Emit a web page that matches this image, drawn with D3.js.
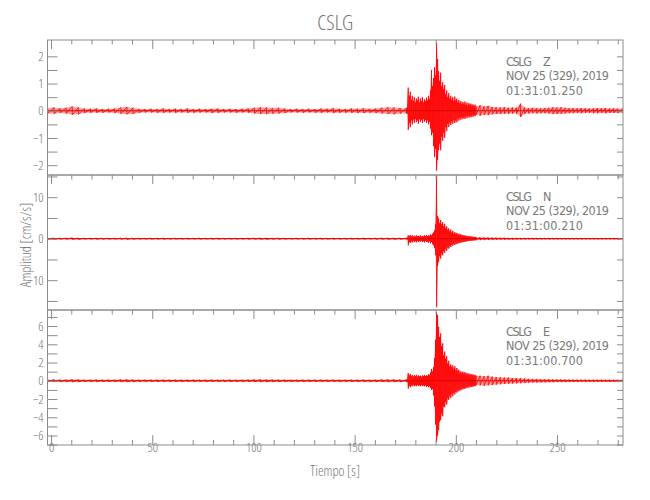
<!DOCTYPE html>
<html><head><meta charset="utf-8">
<script src="https://cdn.jsdelivr.net/npm/d3@7"></script>
<style>body{margin:0;background:#fff}</style>
</head><body><svg id="c" width="650" height="500"></svg>
<script>
// ---- time grid of envelope samples (s)
const times = [
 -1.7,1.5,4.5,7.5,10.5,13.5,16.5,19.5,22.5,25.5,
 28.5,31.5,34.5,37.5,40.5,43.5,46.5,49.5,52.5,55.5,
 58.5,61.5,64.5,67.5,70.5,73.5,76.5,79.5,82.5,85.5,
 88.5,91.5,94.5,97.5,100.5,103.5,106.5,109.5,112.5,115.5,
 118.5,121.5,124.5,127.5,130.5,133.5,136.5,139.5,142.5,145.5,
 148.5,151.5,154.5,157.5,160.5,163.5,166.5,169.5,172.5,175.5,
 176,176.5,177,177.5,178,178.5,179,179.5,180,180.5,
 181,181.5,182,182.5,183,183.5,184,184.5,185,185.5,
 186,186.5,187,187.5,188,188.5,189,189.5,190,190.5,
 191,191.5,192,192.5,193,193.5,194,194.5,195,195.5,
 196,196.5,197,197.5,198,198.5,199,199.5,200,200.5,
 201,201.5,202,202.5,203,203.5,204,204.5,205,205.5,
 206,206.5,207,207.5,208,208.5,209,209.5,
 210,
 212,214,216,218,220,222,224,226,228,230,
 232,234,236,238,240,242,244,246,248,250,
 252,254,256,258,260,262,264,266,268,270,
 272,274,276,278,280,282.5
];

// ---- Z component envelope (cm/s/s)
const zMax = [
 .10,.12,.09,.11,.16,.12,.08,.07,.08,.06, .07,.08,.12,.14,.11,.07,.06,.07,.06,.08,
 .06,.07,.06,.08,.06,.07,.06,.07,.08,.06, .07,.06,.07,.08,.11,.13,.12,.10,.11,.08,
 .06,.07,.06,.07,.06,.08,.07,.09,.07,.06, .08,.07,.09,.07,.08,.11,.13,.12,.10,.09,
 .12,.85,.55,.70,.40,.55,.35,.50,.30,.45,
 .38,.52,.30,.45,.35,.50,.30,.42,.35,.48,
 .38,.55,.42,.75,1.50,.90,1.20,1.60,1.30,2.50,
 1.90,1.45,1.10,1.40,.90,1.05,.80,.95,.60,.75,
 .50,.65,.45,.55,.40,.50,.35,.52,.38,.45,
 .30,.40,.28,.36,.25,.32,.26,.34,.22,.30,
 .20,.28,.22,.26,.18,.24,.17,.22,
 .16,
 .20,.16,.18,.14,.13,.12,.13,.11,.12,.11, .26,.12,.10,.11,.10,.09,.10,.11,.13,.12,
 .13,.11,.09,.10,.09,.10,.09,.08,.09,.10, .09,.10,.08,.09,.08,.08
];
const zMin = [
 -.10,-.11,-.08,-.10,-.15,-.13,-.08,-.07,-.07,-.07, -.06,-.08,-.11,-.13,-.12,-.07,-.06,-.06,-.07,-.07,
 -.06,-.07,-.06,-.07,-.07,-.06,-.06,-.08,-.07,-.06, -.06,-.07,-.06,-.07,-.10,-.12,-.12,-.11,-.10,-.08,
 -.06,-.06,-.07,-.06,-.07,-.07,-.06,-.08,-.07,-.07, -.07,-.08,-.08,-.07,-.08,-.10,-.12,-.13,-.10,-.09,
 -.12,-.70,-.45,-.60,-.35,-.50,-.32,-.45,-.30,-.42,
 -.35,-.48,-.30,-.40,-.33,-.45,-.30,-.40,-.33,-.45,
 -.35,-.50,-.40,-.65,-.90,-.80,-1.30,-1.70,-1.40,-2.20,
 -1.80,-1.45,-1.20,-1.45,-.95,-1.10,-.80,-1.00,-.60,-.75,
 -.48,-.60,-.42,-.52,-.38,-.48,-.34,-.45,-.35,-.42,
 -.28,-.36,-.26,-.33,-.24,-.30,-.24,-.30,-.20,-.27,
 -.19,-.25,-.20,-.24,-.17,-.22,-.16,-.20,
 -.15,
 -.18,-.15,-.16,-.13,-.12,-.12,-.11,-.11,-.10,-.10, -.23,-.11,-.10,-.09,-.10,-.09,-.09,-.10,-.12,-.12,
 -.11,-.10,-.09,-.09,-.08,-.09,-.08,-.08,-.09,-.09, -.08,-.09,-.08,-.08,-.08,-.08
];

// ---- N component envelope
const nMax = [
 .15,.18,.14,.16,.20,.17,.14,.13,.15,.12, .14,.13,.16,.18,.15,.13,.12,.14,.12,.13,
 .12,.14,.12,.13,.12,.14,.12,.13,.14,.12, .13,.12,.13,.14,.16,.18,.17,.15,.16,.13,
 .12,.13,.12,.14,.12,.13,.12,.14,.13,.12, .14,.13,.15,.13,.14,.16,.18,.17,.15,.16,
 .2,.8,.6,.9,.5,.8,.5,.7,.5,.8,
 .6,.7,.5,.8,.5,.7,.5,.8,.6,.9,
 .6,.8,.7,1.0,.8,1.2,1.5,2.0,3.5,15.2,
 5.5,4.9,3.8,4.5,3.5,4.0,3.0,3.6,2.6,3.0,
 2.2,2.5,1.8,2.2,1.5,1.9,1.3,1.6,1.2,1.4,
 1.0,1.2,.9,1.1,.8,.9,.7,.8,.6,.7,
 .55,.6,.5,.55,.45,.5,.4,.45,
 .38,
 .35,.30,.28,.25,.22,.20,.20,.18,.18,.16, .16,.15,.15,.14,.14,.13,.13,.14,.13,.13,
 .12,.13,.12,.12,.13,.12,.12,.12,.12,.12, .12,.12,.12,.12,.12,.12
];
const nMin = [
 -.14,-.17,-.15,-.15,-.19,-.18,-.13,-.13,-.14,-.13, -.13,-.14,-.15,-.17,-.16,-.12,-.13,-.13,-.12,-.14,
 -.12,-.13,-.13,-.12,-.13,-.13,-.12,-.14,-.13,-.12, -.12,-.13,-.12,-.13,-.15,-.17,-.18,-.16,-.15,-.14,
 -.12,-.12,-.13,-.13,-.12,-.12,-.13,-.13,-.12,-.13, -.13,-.14,-.14,-.12,-.15,-.15,-.17,-.18,-.16,-.15,
 -.2,-1.6,-.8,-1.0,-.6,-.9,-.5,-.8,-.6,-.9,
 -.5,-.8,-.6,-.7,-.5,-.8,-.6,-.9,-.5,-.8,
 -.7,-1.0,-.6,-1.1,-.8,-1.3,-1.6,-2.2,-4.0,-16.5,
 -6.5,-5.6,-4.2,-4.8,-3.6,-4.0,-3.0,-3.4,-2.5,-2.9,
 -2.1,-2.4,-1.8,-2.0,-1.5,-1.7,-1.3,-1.5,-1.1,-1.3,
 -1.0,-1.1,-.9,-1.0,-.75,-.85,-.65,-.75,-.6,-.65,
 -.5,-.55,-.45,-.5,-.42,-.45,-.38,-.4,
 -.35,
 -.33,-.30,-.27,-.25,-.22,-.20,-.19,-.18,-.17,-.16, -.16,-.15,-.15,-.14,-.14,-.13,-.13,-.13,-.13,-.12,
 -.12,-.12,-.12,-.12,-.12,-.12,-.12,-.12,-.12,-.12, -.12,-.12,-.12,-.12,-.12,-.12
];

// ---- E component envelope
const eMax = [
 .12,.14,.11,.12,.15,.13,.11,.10,.11,.10, .11,.10,.13,.14,.12,.10,.10,.11,.10,.11,
 .10,.11,.10,.10,.11,.10,.10,.11,.10,.10, .11,.10,.10,.11,.13,.14,.13,.12,.12,.11,
 .10,.10,.11,.10,.10,.11,.10,.11,.10,.10, .11,.10,.12,.10,.11,.13,.14,.14,.12,.12,
 .15,.85,.6,.75,.5,.65,.45,.6,.5,.65,
 .45,.6,.5,.55,.45,.6,.5,.65,.5,.6,
 .55,.7,.6,.9,1.3,1.0,1.5,2.5,4.5,7.5,
 7.2,5.9,4.8,5.2,3.8,4.1,2.8,3.2,2.4,2.7,
 1.9,2.2,1.6,1.8,1.5,1.7,1.3,1.6,1.2,1.4,
 1.1,1.2,.9,1.05,.85,1.0,.8,.95,.75,.85,
 .7,.8,.65,.75,.6,.7,.55,.65,
 .55,
 .55,.50,.55,.45,.40,.38,.35,.35,.30,.30, .28,.25,.22,.20,.20,.18,.16,.16,.15,.14,
 .14,.13,.12,.12,.12,.11,.11,.10,.10,.10, .10,.10,.10,.10,.10,.10
];
const eMin = [
 -.12,-.13,-.11,-.12,-.14,-.13,-.10,-.10,-.11,-.10, -.10,-.11,-.12,-.14,-.12,-.10,-.10,-.10,-.11,-.10,
 -.10,-.10,-.11,-.10,-.10,-.10,-.11,-.10,-.10,-.11, -.10,-.10,-.11,-.10,-.12,-.14,-.13,-.12,-.11,-.11,
 -.10,-.11,-.10,-.10,-.11,-.10,-.10,-.11,-.10,-.10, -.10,-.11,-.11,-.10,-.12,-.12,-.14,-.13,-.12,-.11,
 -.15,-.85,-.55,-.7,-.5,-.6,-.45,-.6,-.5,-.6,
 -.45,-.55,-.5,-.6,-.45,-.6,-.5,-.6,-.5,-.65,
 -.55,-.7,-.6,-.8,-1.0,-.9,-1.6,-2.8,-4.8,-6.7,
 -6.0,-5.4,-4.5,-4.3,-3.6,-3.9,-2.8,-2.9,-2.3,-2.6,
 -1.9,-2.1,-1.6,-1.9,-1.4,-1.7,-1.3,-1.5,-1.2,-1.3,
 -1.05,-1.15,-.95,-1.05,-.85,-.95,-.8,-.9,-.7,-.8,
 -.65,-.75,-.6,-.7,-.6,-.65,-.55,-.6,
 -.5,
 -.50,-.55,-.50,-.45,-.42,-.38,-.35,-.33,-.30,-.28, -.27,-.25,-.22,-.20,-.20,-.18,-.17,-.16,-.15,-.14,
 -.14,-.13,-.12,-.12,-.12,-.11,-.11,-.10,-.10,-.10, -.10,-.10,-.10,-.10,-.10,-.10
];

// ---- axis / label content
const xDomain = [-1.75, 282.6];
const xMajorTicks = [0, 50, 100, 150, 200, 250];
const xMinorTicks = [10,20,30,40,60,70,80,90,110,120,130,140,160,170,180,190,210,220,230,240,260,270,280];
const components = ["Z", "N", "E"];
const startTimes = ["01:31:01.250", "01:31:00.210", "01:31:00.700"];
const dateLabel = "NOV 25 (329), 2019";
const station = "CSLG";
const yDomains = [[-2.36, 2.60], [-17.18, 15.35], [-7.04, 7.76]];
const yTicks = [
  [-2,-1.5,-1,-0.5,0,0.5,1,1.5,2],
  [-15,-10,-5,0,5,10,15],
  [-7,-6,-5,-4,-3,-2,-1,0,1,2,3,4,5,6,7]
];
const yTickLabels = [[-2,-1,0,1,2], [-10,0,10], [-6,-4,-2,0,2,4,6]];
const yTitle = "Amplitud [cm/s/s]";
const xTitle = "Tiempo [s]";

// ---- drawing
const svg = d3.select("#c");
const L = 47.5, R = 623, panelTops = [40, 175, 310], panelH = 135;
const axisColor = "#8c8c8c", textColor = "#737373";
const font = "'Open Sans', 'Liberation Sans Narrow', sans-serif";
const annFont = "'Liberation Sans Narrow', 'DejaVu Sans Condensed', sans-serif";
const x = d3.scaleLinear().domain(xDomain).range([L, R]);
const envs = [[zMax, zMin], [nMax, nMin], [eMax, eMin]];
const defs = svg.append("defs");

function styleText(sel, size) {
  sel.style("font-family", font).style("font-size", size + "px")
     .style("font-weight", 300).style("font-stretch", "75%").attr("fill", textColor);
}

components.forEach((comp, i) => {
  const top = panelTops[i], bot = top + panelH;
  const y = d3.scaleLinear().domain(yDomains[i]).range([bot, top]);
  const [mx, mn] = envs[i];
  const n = Math.min(times.length, mx.length, mn.length);
  const data = d3.range(n).map(k => ({t: times[k], hi: mx[k], lo: mn[k]}));
  const zig = [];
  data.forEach(d => { zig.push([d.t, d.hi]); zig.push([d.t, d.lo]); });
  const g = svg.append("g");
  defs.append("clipPath").attr("id", "clip" + i).append("rect")
    .attr("x", L).attr("y", top).attr("width", R - L).attr("height", panelH);
  const tr = g.append("g").attr("clip-path", `url(#clip${i})`);
  tr.append("path").datum(data)
    .attr("d", d3.area().x(d => x(d.t)).y0(d => y(d.lo)).y1(d => y(d.hi)))
    .attr("fill", "#ff5050").attr("fill-opacity", 0.55);
  tr.append("path").datum(zig)
    .attr("d", d3.line().x(d => x(d[0])).y(d => y(d[1])))
    .attr("fill", "none").attr("stroke", "#ff0000").attr("stroke-width", 0.8);
  tr.append("line").attr("x1", L).attr("x2", R).attr("y1", y(0)).attr("y2", y(0))
    .attr("stroke", "#e00000").attr("stroke-width", 1);

  g.append("rect").attr("x", L).attr("y", top).attr("width", R - L).attr("height", panelH)
    .attr("fill", "none").attr("stroke", axisColor).attr("stroke-width", 1);

  const yl = d3.axisLeft(y).tickValues(yTicks[i]).tickSize(-10).tickPadding(4)
    .tickFormat(v => yTickLabels[i].includes(v) ? (v < 0 ? "\u2212" + Math.abs(v) : v) : "");
  const gl = g.append("g").attr("transform", `translate(${L},0)`).call(yl);
  const yr = d3.axisRight(y).tickValues(yTicks[i]).tickSize(-6).tickFormat("");
  const gr = g.append("g").attr("transform", `translate(${R},0)`).call(yr);
  const xt = d3.axisTop(x).tickValues(xMajorTicks).tickSize(-9).tickFormat("");
  const xt2 = d3.axisTop(x).tickValues(xMinorTicks).tickSize(-4.5).tickFormat("");
  const gt = g.append("g").attr("transform", `translate(0,${top})`).call(xt);
  const gt2 = g.append("g").attr("transform", `translate(0,${top})`).call(xt2);
  [gl, gr, gt, gt2].forEach(a => {
    a.select(".domain").remove();
    a.selectAll("line").attr("stroke", axisColor);
    styleText(a.selectAll("text"), 13);
  });

  // annotation block (compact-metric narrow font so lines do not collide)
  const lines = [
    {x: 506, dy: 25.5, txt: station, len: 26},
    {x: 543, dy: 25.5, txt: comp, len: null},
    {x: 506, dy: 40, txt: dateLabel, len: 103},
    {x: 506, dy: 54.5, txt: startTimes[i], len: 77}
  ];
  lines.forEach(l => {
    const t = svg.append("text").attr("x", l.x).attr("y", top + l.dy)
      .style("font-family", annFont).style("font-size", "12.5px").attr("fill", "#7a7a7a").text(l.txt);
    if (l.len) t.attr("textLength", l.len).attr("lengthAdjust", "spacing");
  });

  if (i === 2) {
    const xb = d3.axisBottom(x).tickValues(xMajorTicks).tickSize(-10).tickPadding(4);
    const xb2 = d3.axisBottom(x).tickValues(xMinorTicks).tickSize(-5).tickFormat("");
    const gb = g.append("g").attr("transform", `translate(0,${bot})`).call(xb);
    const gb2 = g.append("g").attr("transform", `translate(0,${bot})`).call(xb2);
    [gb, gb2].forEach(a => {
      a.select(".domain").remove();
      a.selectAll("line").attr("stroke", axisColor);
      styleText(a.selectAll("text").attr("dy", "0.2em"), 13);
    });
  }
});

styleText(svg.append("text").attr("x", (L + R) / 2).attr("y", 30).attr("text-anchor", "middle").text(station), 21);
styleText(svg.append("text").attr("x", (L + R) / 2).attr("y", 476).attr("text-anchor", "middle").text(xTitle), 14);
styleText(svg.append("text").attr("transform", "translate(31,245) rotate(-90)").attr("text-anchor", "middle").text(yTitle), 14);
</script></body></html>
